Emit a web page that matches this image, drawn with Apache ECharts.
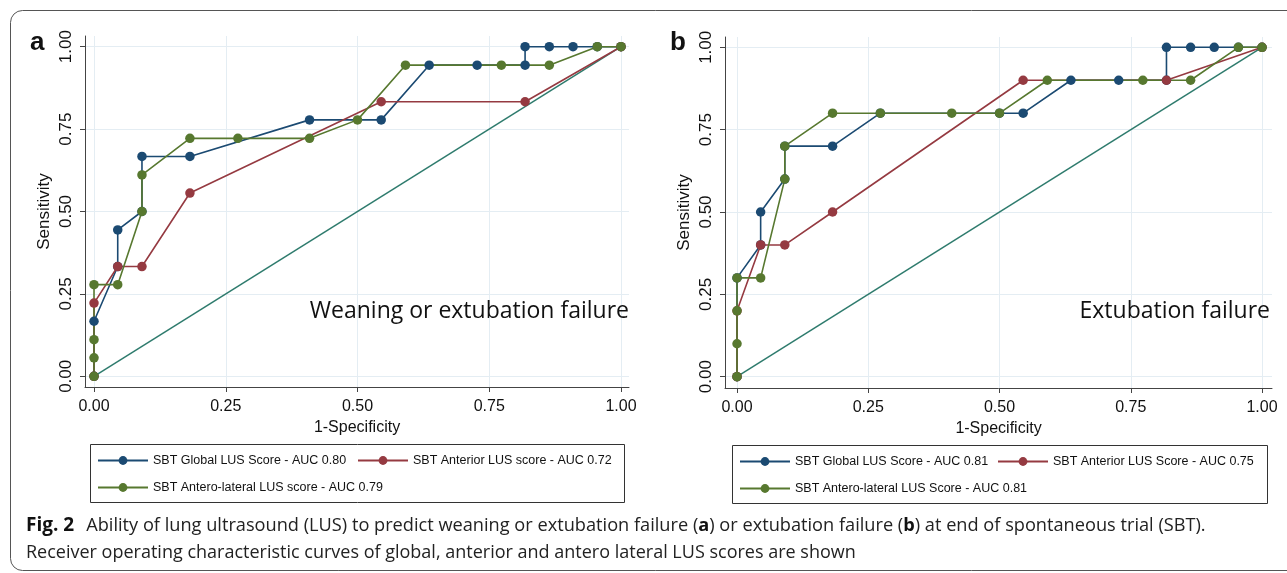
<!DOCTYPE html>
<html>
<head>
<meta charset="utf-8">
<title>ROC curves LUS</title>
<script src="https://cdn.jsdelivr.net/npm/echarts@6/dist/echarts.min.js"></script>
<style>
html,body{margin:0;padding:0;background:#fff;}
#chart{width:1287px;height:573px;}
</style>
</head>
<body>
<div id="chart"></div>
<script>
// tick positions shared by both panels
var tickVals = [0, 0.25, 0.5, 0.75, 1];

// panel a : weaning or extubation failure  ([1-specificity, sensitivity])
var aGlobal = [[0,0],[0,0.167],[0.045,0.333],[0.045,0.444],[0.091,0.5],[0.091,0.667],[0.182,0.667],[0.409,0.778],[0.545,0.778],[0.636,0.944],[0.727,0.944],[0.818,0.944],[0.818,1],[0.864,1],[0.909,1],[0.955,1],[1,1]];
var aAnterior = [[0,0],[0,0.222],[0.045,0.333],[0.091,0.333],[0.182,0.556],[0.545,0.833],[0.818,0.833],[1,1]];
var aAnteroLat = [[0,0],[0,0.056],[0,0.111],[0,0.278],[0.045,0.278],[0.091,0.5],[0.091,0.611],[0.182,0.722],[0.273,0.722],[0.409,0.722],[0.5,0.778],[0.591,0.944],[0.773,0.944],[0.864,0.944],[0.955,1],[1,1]];
var aNames = ['SBT Global LUS Score - AUC 0.80', 'SBT Anterior LUS score - AUC 0.72', 'SBT Antero-lateral LUS score - AUC 0.79'];

// panel b : extubation failure
var bGlobal = [[0,0],[0,0.3],[0.045,0.4],[0.045,0.5],[0.091,0.6],[0.091,0.7],[0.182,0.7],[0.273,0.8],[0.5,0.8],[0.545,0.8],[0.636,0.9],[0.727,0.9],[0.818,0.9],[0.818,1],[0.864,1],[0.909,1],[0.955,1],[1,1]];
var bAnterior = [[0,0],[0,0.2],[0.045,0.4],[0.091,0.4],[0.182,0.5],[0.545,0.9],[0.818,0.9],[1,1]];
var bAnteroLat = [[0,0],[0,0.1],[0,0.2],[0,0.3],[0.045,0.3],[0.091,0.6],[0.091,0.7],[0.182,0.8],[0.273,0.8],[0.409,0.8],[0.5,0.8],[0.591,0.9],[0.773,0.9],[0.864,0.9],[0.955,1],[1,1]];
var bNames = ['SBT Global LUS Score - AUC 0.81', 'SBT Anterior LUS Score - AUC 0.75', 'SBT Antero-lateral LUS Score - AUC 0.81'];

var refLine = [[0,0],[1,1]];

var colors = ['#1b4a72', '#953a41', '#57782f'];
var refColor = '#2e7b6d';
var sans = "'Liberation Sans',Arial,sans-serif";
var capFont = "'Open Sans',sans-serif";

function fmt(v){ return Number(v).toFixed(2); }

function xAxisOf(gi, min, max){
    return {
        type:'value', gridIndex:gi, min:min, max:max,
        name:'1-Specificity', nameLocation:'middle', nameGap:30,
        nameTextStyle:{fontFamily:sans, fontSize:16, color:'#111'},
        axisLine:{show:true, onZero:false, lineStyle:{color:'#444', width:1}},
        axisTick:{show:true, length:5, customValues:tickVals, lineStyle:{color:'#444'}},
        axisLabel:{customValues:tickVals, formatter:fmt, margin:12, fontFamily:sans, fontSize:16, color:'#111'},
        splitLine:{show:true, lineStyle:{color:'#e4edf3', width:1}}
    };
}
function yAxisOf(gi, min, max){
    return {
        type:'value', gridIndex:gi, min:min, max:max,
        name:'Sensitivity', nameLocation:'middle', nameGap:32,
        nameTextStyle:{fontFamily:sans, fontSize:17, color:'#111'},
        axisLine:{show:true, onZero:false, lineStyle:{color:'#444', width:1}},
        axisTick:{show:true, length:5, customValues:tickVals, lineStyle:{color:'#444'}},
        axisLabel:{customValues:tickVals, formatter:fmt, rotate:90, margin:10, fontFamily:sans, fontSize:17, color:'#111'},
        splitLine:{show:true, lineStyle:{color:'#e4edf3', width:1}}
    };
}
function rocSerie(name, data, idx, color){
    return {
        name:name, type:'line', xAxisIndex:idx, yAxisIndex:idx, data:data,
        symbol:'circle', symbolSize:9.5, color:color,
        lineStyle:{color:color, width:1.6}, itemStyle:{color:color},
        animation:false, z:3
    };
}
function refSerie(idx){
    return {
        type:'line', xAxisIndex:idx, yAxisIndex:idx, data:refLine,
        showSymbol:false, symbol:'none', lineStyle:{color:refColor, width:1.5},
        animation:false, silent:true, z:2
    };
}
function legendOf(name, left, top){
    return {
        data:[name], left:left, top:top, padding:0, itemWidth:50, itemHeight:11,
        selectedMode:false, textStyle:{fontFamily:sans, fontSize:12.5, color:'#111'}
    };
}

var myChart = echarts.init(document.getElementById('chart'), null, {renderer:'canvas'});
var option = {
    animation:false,
    backgroundColor:'#fff',
    grid:[
        {left:85, top:36, width:544, height:351},
        {left:725, top:37, width:547, height:351}
    ],
    xAxis:[ xAxisOf(0, -0.0171, 1.0152), xAxisOf(1, -0.0229, 1.019) ],
    yAxis:[ yAxisOf(0, -0.0325, 1.0325), yAxisOf(1, -0.0343, 1.0313) ],
    legend:[
        legendOf(aNames[0], 97, 454), legendOf(aNames[1], 357, 454), legendOf(aNames[2], 97, 481),
        legendOf(bNames[0], 739, 455), legendOf(bNames[1], 997, 455), legendOf(bNames[2], 739, 482)
    ],
    series:[
        refSerie(0),
        rocSerie(aNames[0], aGlobal, 0, colors[0]),
        rocSerie(aNames[1], aAnterior, 0, colors[1]),
        rocSerie(aNames[2], aAnteroLat, 0, colors[2]),
        refSerie(1),
        rocSerie(bNames[0], bGlobal, 1, colors[0]),
        rocSerie(bNames[1], bAnterior, 1, colors[1]),
        rocSerie(bNames[2], bAnteroLat, 1, colors[2])
    ],
    graphic:[
        // outer frame
        {type:'rect', shape:{x:10.5, y:10.5, width:1300, height:560, r:12}, style:{fill:'none', stroke:'#555', lineWidth:1}, z:-1},
        // legend boxes
        {type:'rect', shape:{x:90.5, y:444.5, width:534, height:58}, style:{fill:'none', stroke:'#333', lineWidth:1}},
        {type:'rect', shape:{x:732.5, y:445.5, width:535, height:58}, style:{fill:'none', stroke:'#333', lineWidth:1}},
        // panel letters
        {type:'text', left:30, top:30, style:{text:'a', font:'bold 26px ' + sans, fill:'#111'}},
        {type:'text', left:670, top:30, style:{text:'b', font:'bold 26px ' + sans, fill:'#111'}},
        // in-plot titles
        {type:'text', x:629, y:311, style:{text:'Weaning or extubation failure', font:'23px ' + capFont, fill:'#111', align:'right', verticalAlign:'middle'}, z:10},
        {type:'text', x:1270, y:311, style:{text:'Extubation failure', font:'23px ' + capFont, fill:'#111', align:'right', verticalAlign:'middle'}, z:10},
        // caption
        {type:'text', x:26, y:526, style:{
            text:'{f|Fig. 2}{g| }{n|Ability of lung ultrasound (LUS) to predict weaning or extubation failure (}{b|a}{n|) or extubation failure (}{b|b}{n|) at end of spontaneous trial (SBT).}',
            verticalAlign:'middle',
            rich:{
                f:{font:'bold 19px ' + capFont, fill:'#111'},
                g:{font:'18px ' + capFont, width:12},
                b:{font:'bold 18.2px ' + capFont, fill:'#111'},
                n:{font:'18.2px ' + capFont, fill:'#222'}
            }
        }},
        {type:'text', x:26, y:553, style:{text:'Receiver operating characteristic curves of global, anterior and antero lateral LUS scores are shown', font:'18px ' + capFont, fill:'#222', verticalAlign:'middle'}}
    ]
};
myChart.setOption(option);
</script>
</body>
</html>
